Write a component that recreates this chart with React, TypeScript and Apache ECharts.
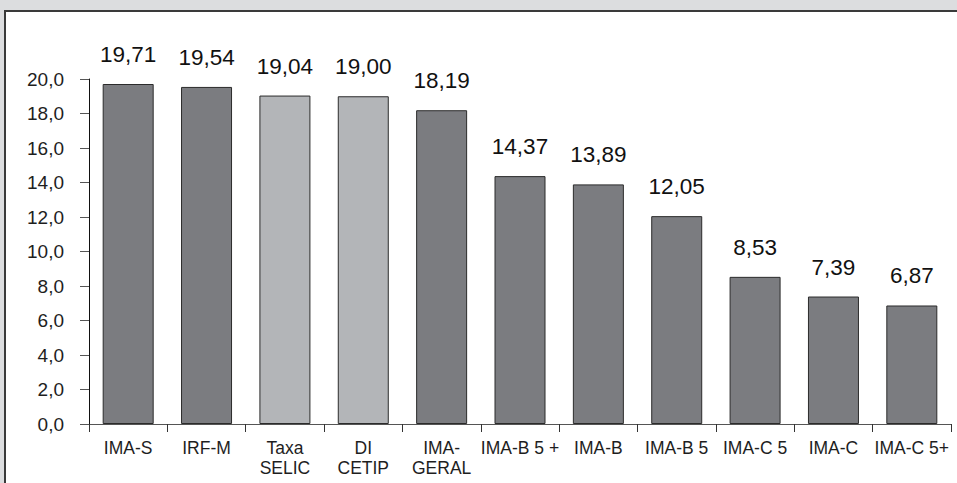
import React, { useEffect, useRef } from "react";
import * as echarts from "echarts";

const categories = [
  "IMA-S",
  "IRF-M",
  "Taxa\nSELIC",
  "DI\nCETIP",
  "IMA-\nGERAL",
  "IMA-B 5 +",
  "IMA-B",
  "IMA-B 5",
  "IMA-C 5",
  "IMA-C",
  "IMA-C 5+",
];
const values = [19.71, 19.54, 19.04, 19.0, 18.19, 14.37, 13.89, 12.05, 8.53, 7.39, 6.87];
const lightIdx = [2, 3];

const DARK = "#7b7c80";
const LIGHT = "#b3b5b8";
const FONT = "'Liberation Sans', Arial, Helvetica, sans-serif";

export default function App() {
  const ref = useRef<HTMLDivElement>(null);
  useEffect(() => {
    document.body.style.margin = "0";
    const chart = echarts.init(ref.current!, null, { renderer: "svg" });
    chart.setOption({
      animation: false,
      backgroundColor: "#dcdddf",
      textStyle: { fontFamily: FONT },
      graphic: [
        {
          type: "rect",
          z: -10,
          silent: true,
          shape: { x: 5, y: 11, width: 1000, height: 1000 },
          style: { fill: "#ffffff", stroke: "#3a3a3a", lineWidth: 2 },
        },
      ],
      grid: { left: 89, right: 6, top: 79, bottom: 59, containLabel: false },
      xAxis: {
        type: "category",
        data: categories,
        boundaryGap: true,
        axisLine: { show: true, lineStyle: { color: "#555", width: 1 } },
        axisTick: { show: true, length: 8, alignWithLabel: false, lineStyle: { color: "#333" } },
        axisLabel: {
          interval: 0,
          color: "#1e1e1e",
          fontSize: 17.5,
          fontFamily: FONT,
          lineHeight: 20,
          margin: 14,
        },
      },
      yAxis: {
        type: "value",
        min: 0,
        max: 20,
        interval: 2,
        axisLine: { show: true, lineStyle: { color: "#111", width: 1 } },
        axisTick: { show: true, inside: false, length: 9, lineStyle: { color: "#555" } },
        splitLine: { show: false },
        axisLabel: {
          color: "#1e1e1e",
          fontSize: 19,
          fontFamily: FONT,
          margin: 25,
          formatter: (v: number) => v.toFixed(1).replace(".", ","),
        },
      },
      series: [
        {
          type: "bar",
          barWidth: 51,
          data: values.map((v, i) => ({
            value: v,
            itemStyle: {
              color: lightIdx.includes(i) ? LIGHT : DARK,
              borderColor: "#2b2b2b",
              borderWidth: 1,
            },
          })),
          label: {
            show: true,
            position: "top",
            distance: 18,
            color: "#111",
            fontSize: 22.5,
            fontFamily: FONT,
            formatter: (p: any) => p.value.toFixed(2).replace(".", ","),
          },
        },
      ],
    });
    return () => chart.dispose();
  }, []);
  return (
    <div
      ref={ref}
      style={{ position: "fixed", left: 0, top: 0, width: 957, height: 483 }}
    />
  );
}
